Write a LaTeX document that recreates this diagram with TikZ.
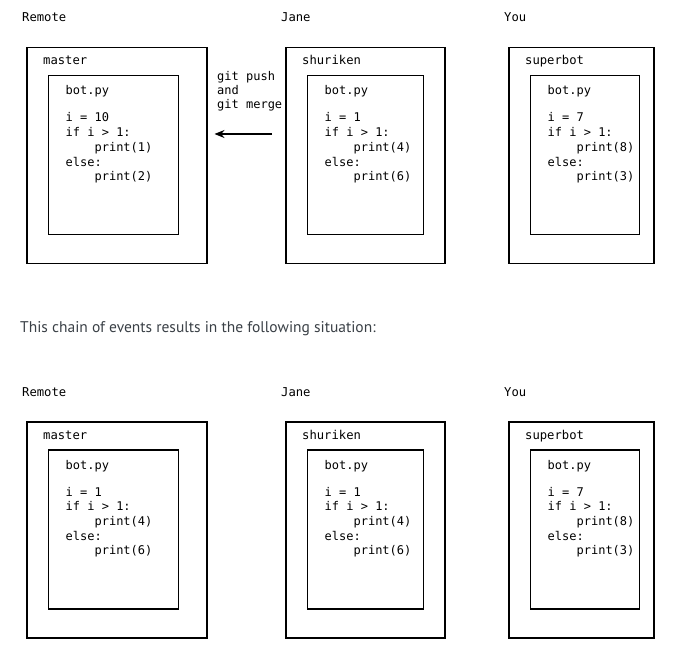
\documentclass[tikz,border=0pt]{standalone}
\usepackage{fontspec}
\setmainfont{DejaVu Sans Mono}
\newfontfamily\prosefont{PT Sans}
\usetikzlibrary{arrows.meta}
\definecolor{prose}{HTML}{3A4046}
\tikzset{
  outerbox/.style={draw, line width=1.5pt, inner sep=0pt, anchor=north west, minimum height=216pt},
  innerbox/.style={draw, line width=1.5pt, inner sep=0pt, anchor=north west, minimum height=159pt},
  lbl/.style={anchor=base west, inner sep=0pt, font=\fontsize{12.2}{14}\selectfont},
  code/.style={anchor=base west, inner sep=0pt, font=\fontsize{12}{14}\selectfont},
  pusharrow/.style={line width=1.2pt, -{Stealth[length=10pt,width=8pt]}},
}
% #1 name, #2 ox, #3 oy, #4 outer width, #5 inner width, #6 branch, #7 i value, #8 first print, #9 second print
\newcommand\gitpanel[9]{%
  \node[outerbox, minimum width=#4pt] (#1-outer) at (#2,#3) {};
  \node[innerbox, minimum width=#5pt] (#1-inner) at (#2+21.5,#3+28) {};
  \node[lbl]  (#1-branch) at (#2+17,#3+18) {#6};
  \node[code] (#1-file)   at (#2+39.5,#3+48) {bot.py};
  \node[code] (#1-l1) at (#2+39.5,#3+75)   {i = #7};
  \node[code] (#1-l2) at (#2+39.5,#3+89.7) {if i > 1:};
  \node[code] (#1-l3) at (#2+39.5,#3+104.4){\phantom{else}print(#8)};
  \node[code] (#1-l4) at (#2+39.5,#3+119.1){else:};
  \node[code] (#1-l5) at (#2+39.5,#3+133.8){\phantom{else}print(#9)};
}
\begin{document}
\begin{tikzpicture}[x=1pt, y=-1pt]
  \useasboundingbox (0,0) rectangle (688,660);
  % top row
  \node[lbl] (owner-r1) at (22,22) {Remote};
  \node[lbl] (owner-j1) at (281,22) {Jane};
  \node[lbl] (owner-y1) at (504,22) {You};
  \gitpanel{remote1}{26}{47}{180}{130}{master}{10}{1}{2}
  \gitpanel{jane1}{285}{47}{159}{116}{shuriken}{1}{4}{6}
  \gitpanel{you1}{508}{47}{145}{109}{superbot}{7}{8}{3}
  % push label and arrow
  \node[code] (git1) at (217,81)  {git push};
  \node[code] (git2) at (217,95)  {and};
  \node[code] (git3) at (217,109) {git merge};
  \coordinate (arrowy) at (0,134);
  \draw[pusharrow, shorten <=13pt, shorten >=7pt]
    (jane1-outer.west |- arrowy) -- (remote1-outer.east |- arrowy);
  % sentence
  \node[anchor=base west, inner sep=0pt, text=prose,
        font=\prosefont\fontsize{15.5}{18}\selectfont] (sentence) at (20,333)
        {This chain of events results in the following situation:};
  % bottom row
  \node[lbl] (owner-r2) at (22,396) {Remote};
  \node[lbl] (owner-j2) at (281,396) {Jane};
  \node[lbl] (owner-y2) at (504,396) {You};
  \gitpanel{remote2}{26}{421}{180}{130}{master}{1}{4}{6}
  \gitpanel{jane2}{285}{421}{159}{116}{shuriken}{1}{4}{6}
  \gitpanel{you2}{508}{421}{145}{109}{superbot}{7}{8}{3}
\end{tikzpicture}
\end{document}
